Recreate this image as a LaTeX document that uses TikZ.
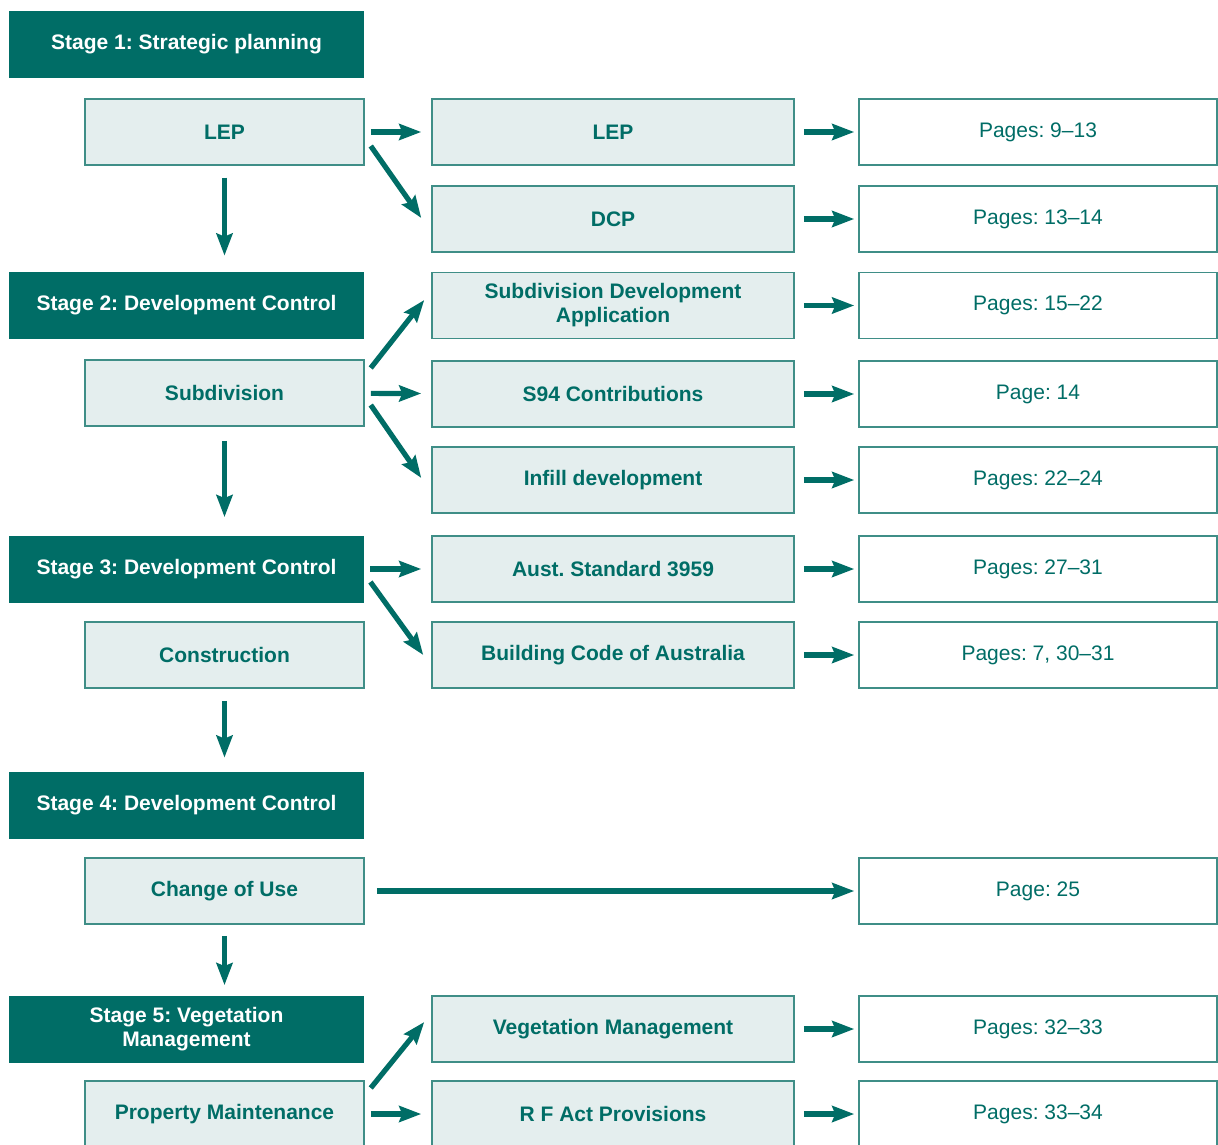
\documentclass[tikz,border=0pt]{standalone}
\usepackage{fontspec}
\setmainfont{Liberation Sans}
\usetikzlibrary{calc, arrows.meta}

\definecolor{darkteal}{HTML}{006D66}
\definecolor{lightteal}{HTML}{E4EEEE}
\definecolor{edgeteal}{HTML}{3F8E87}

\frenchspacing

\begin{document}
\begin{tikzpicture}[x=0.5pt, y=-0.5pt,
    stage/.style={rectangle, fill=darkteal, text=white, inner sep=0pt,
      minimum width=177.5pt, minimum height=33.5pt, align=center,
      font=\bfseries\fontsize{10.5}{12}\selectfont},
    sub/.style={rectangle, draw=edgeteal, fill=lightteal, text=darkteal,
      line width=0.75pt, inner sep=0pt, minimum width=139.5pt,
      minimum height=33pt, align=center,
      font=\bfseries\fontsize{10.5}{12}\selectfont},
    topic/.style={sub, minimum width=181pt},
    page/.style={rectangle, draw=edgeteal, fill=white, text=darkteal,
      line width=0.75pt, inner sep=0pt, minimum width=179pt,
      minimum height=33pt, font=\fontsize{10.5}{12}\selectfont},
    arr/.style={draw=darkteal, line width=2.6pt,
      -{Stealth[length=11pt, width=8pt, inset=1.5pt]}}]

  \useasboundingbox (0,0) rectangle (1218,1144);
  \clip (0,0) rectangle (1218,1144);

  % stages
  \node[stage] (s1) at (186.5,44.5) {Stage 1: Strategic planning};
  \node[stage] (s2) at (186.5,305.5) {Stage 2: Development Control};
  \node[stage] (s3) at (186.5,569) {Stage 3: Development Control};
  \node[stage] (s4) at (186.5,805.5) {Stage 4: Development Control};
  \node[stage] (s5) at (186.5,1029) {Stage 5: Vegetation\\Management};

  % left column
  \node[sub] (lep) at (224.5,132) {LEP};
  \node[sub] (subd) at (224.5,393) {Subdivision};
  \node[sub] (cons) at (224.5,655) {Construction};
  \node[sub] (cou) at (224.5,891) {Change of Use};
  \node[sub] (prop) at (224.5,1114) {Property Maintenance};

  % middle column
  \node[topic] (leptop) at (613,132) {LEP};
  \node[topic] (dcp) at (613,219) {DCP};
  \node[topic] (sda) at (613,305.5) {Subdivision Development\\Application};
  \node[topic] (sxciv) at (613,394) {S94 Contributions};
  \node[topic] (infill) at (613,480) {Infill development};
  \node[topic] (aust) at (613,569) {Aust. Standard 3959};
  \node[topic] (bca) at (613,655) {Building Code of Australia};
  \node[topic] (veg) at (613,1029) {Vegetation Management};
  \node[topic] (rfa) at (613,1114) {R F Act Provisions};

  % right column
  \node[page] (p1) at (1038,132) {Pages: 9--13};
  \node[page] (p2) at (1038,219) {Pages: 13--14};
  \node[page] (p3) at (1038,305.5) {Pages: 15--22};
  \node[page] (p4) at (1038,394) {Page: 14};
  \node[page] (p5) at (1038,480) {Pages: 22--24};
  \node[page] (p6) at (1038,569) {Pages: 27--31};
  \node[page] (p7) at (1038,655) {Pages: 7, 30--31};
  \node[page] (p8) at (1038,891) {Page: 25};
  \node[page] (p9) at (1038,1029) {Pages: 32--33};
  \node[page] (p10) at (1038,1114) {Pages: 33--34};

  % down the stages
  \draw[arr, shorten <=6pt, shorten >=8pt] (lep.south) -- (lep.south |- s2.north);
  \draw[arr, shorten <=7pt, shorten >=9pt] (subd.south) -- (subd.south |- s3.north);
  \draw[arr, shorten <=6pt, shorten >=7pt] (cons.south) -- (cons.south |- s4.north);
  \draw[arr, shorten <=5.5pt, shorten >=5pt] (cou.south) -- (cou.south |- s5.north);

  % into the topics
  \draw[arr, shorten <=3pt, shorten >=5pt] (lep) -- (leptop);
  \draw[arr] ($(lep.east)+(6,14)$) -- ($(dcp.west)+(-10,-1)$);
  \draw[arr] ($(subd.east)+(6,-25)$) -- ($(sda.west)+(-7,-5.5)$);
  \draw[arr, shorten <=3pt, shorten >=5pt] (subd) -- (sxciv);
  \draw[arr] ($(subd.east)+(6,12)$) -- ($(infill.west)+(-10,-2)$);
  \draw[arr, shorten <=3pt, shorten >=5pt] (s3) -- (aust);
  \draw[arr] ($(s3.east)+(6,13)$) -- ($(bca.west)+(-8,0)$);
  \draw[arr, shorten <=6pt, shorten >=2pt] (cou) -- (p8);
  \draw[arr] ($(prop.east)+(6,-26)$) -- ($(veg.west)+(-7,-7)$);
  \draw[arr, shorten <=3pt, shorten >=5pt] (prop) -- (rfa);

  % on to the pages
  \foreach \t/\p in {leptop/p1, dcp/p2, sda/p3, sxciv/p4, infill/p5,
      aust/p6, bca/p7, veg/p9, rfa/p10}
    \draw[arr, shorten <=4.5pt, shorten >=2pt] (\t) -- (\p);
\end{tikzpicture}
\end{document}
